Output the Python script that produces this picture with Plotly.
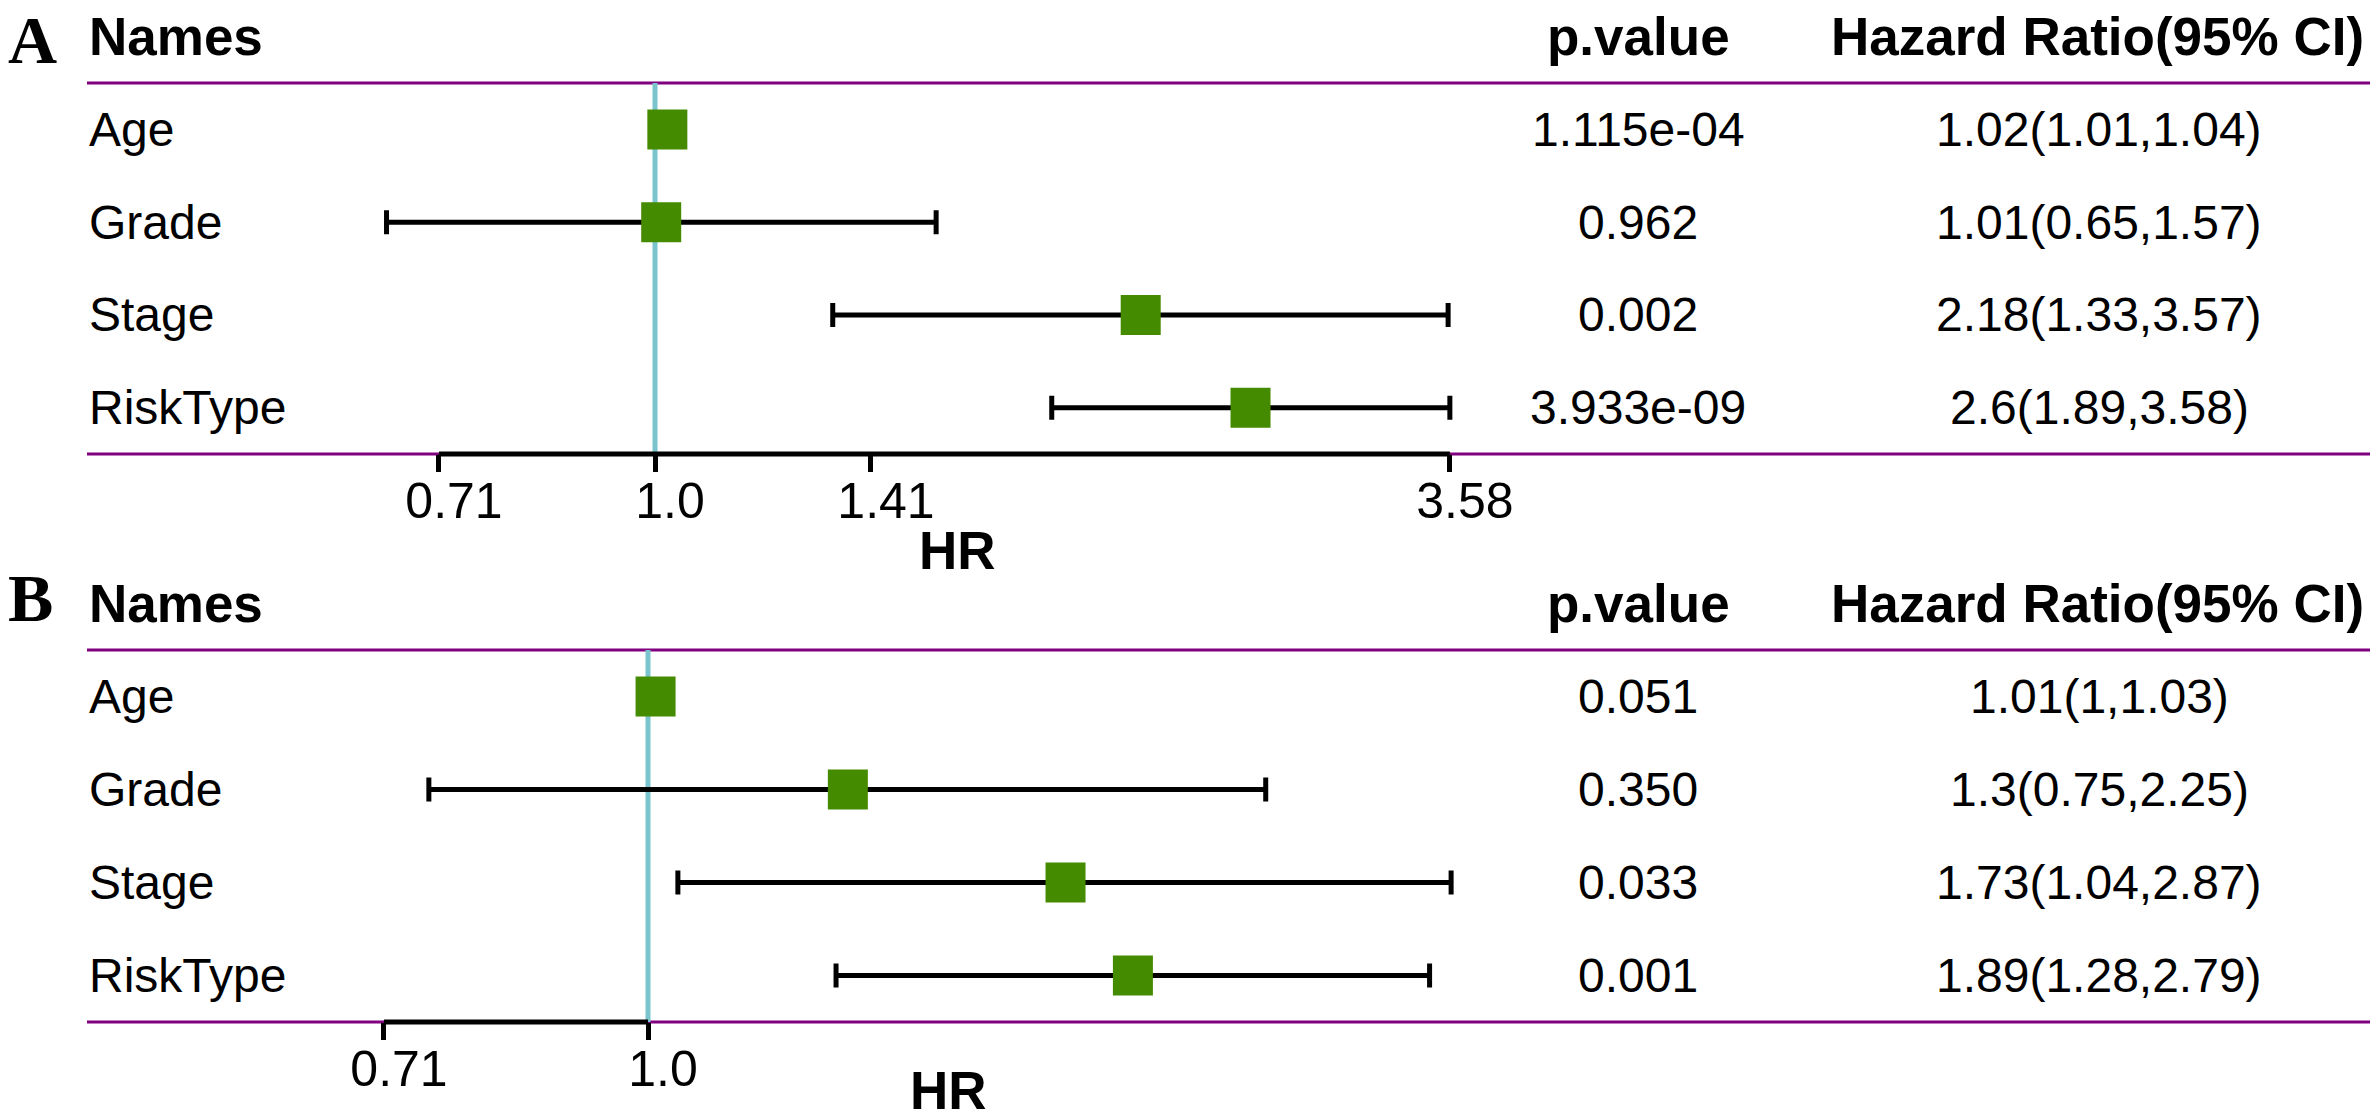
import math
import plotly.graph_objects as go

# ---- data ----
names = ["Age", "Grade", "Stage", "RiskType"]

a_hr = [1.02, 1.01, 2.18, 2.6]
a_lo = [1.01, 0.65, 1.33, 1.89]
a_hi = [1.04, 1.57, 3.57, 3.58]
a_p = ["1.115e-04", "0.962", "0.002", "3.933e-09"]
a_ticks = [0.7071, 1.0, 1.4142, 3.58]
a_ticktext = ["0.71", "1.0", "1.41", "3.58"]

b_hr = [1.01, 1.3, 1.73, 1.89]
b_lo = [1.0, 0.75, 1.04, 1.28]
b_hi = [1.03, 2.25, 2.87, 2.79]
b_p = ["0.051", "0.350", "0.033", "0.001"]
b_ticks = [0.7071, 1.0]
b_ticktext = ["0.71", "1.0"]

W, H = 2375, 1120
GREEN = "#458B00"
CYAN = "#7AC5CD"
PURPLE = "#800080"
SANS = "Liberation Sans, Arial, sans-serif"
SERIF = "Liberation Serif, Times New Roman, serif"

# panel geometry (pixels): where HR=1 sits, px per log2 unit, first row, row step
panels = [
    dict(tag="A", hr=a_hr, lo=a_lo, hi=a_hi, p=a_p, ticks=a_ticks, ticktext=a_ticktext,
         one=655, per=432, row0=129.4, step=92.75, top=0, bot=560,
         hr_x=957, hr_y=551, tag_y=None),
    dict(tag="B", hr=b_hr, lo=b_lo, hi=b_hi, p=b_p, ticks=b_ticks, ticktext=b_ticktext,
         one=648, per=528, row0=696.5, step=93.0, top=560, bot=1120,
         hr_x=948, hr_y=1090, tag_y=598),
]

fig = go.Figure()
layout = dict(width=W, height=H, margin=dict(l=0, r=0, t=0, b=0),
              paper_bgcolor="white", plot_bgcolor="white", showlegend=False)
annotations, shapes = [], []

for k, pn in enumerate(panels):
    sfx = "" if k == 0 else str(k + 1)
    xa, ya = "x" + sfx, "y" + sfx
    rows = list(range(len(names)))

    # reference line at HR = 1
    fig.add_trace(go.Scatter(x=[1, 1], y=[-0.5, len(names) - 0.5], mode="lines",
                             line=dict(color=CYAN, width=5), xaxis=xa, yaxis=ya,
                             hoverinfo="skip"))
    # axis segment between the outer ticks
    fig.add_trace(go.Scatter(x=[pn["ticks"][0], pn["ticks"][-1]],
                             y=[len(names) - 0.5] * 2, mode="lines",
                             line=dict(color="black", width=5), xaxis=xa, yaxis=ya,
                             hoverinfo="skip"))
    # confidence intervals
    fig.add_trace(go.Scatter(
        x=pn["hr"], y=rows, mode="markers", marker=dict(size=1, opacity=0),
        error_x=dict(type="data", symmetric=False,
                     array=[h - m for h, m in zip(pn["hi"], pn["hr"])],
                     arrayminus=[m - l for m, l in zip(pn["hr"], pn["lo"])],
                     color="black", thickness=5, width=12),
        xaxis=xa, yaxis=ya))
    # point estimates
    fig.add_trace(go.Scatter(x=pn["hr"], y=rows, mode="markers",
                             marker=dict(symbol="square", size=40, color=GREEN,
                                         line=dict(width=0)),
                             xaxis=xa, yaxis=ya))

    l2 = math.log10(2)
    xr = [l2 * (0 - pn["one"]) / pn["per"], l2 * (W - pn["one"]) / pn["per"]]
    yr = [(pn["bot"] - pn["row0"]) / pn["step"], (pn["top"] - pn["row0"]) / pn["step"]]
    axis_px = pn["row0"] + (len(names) - 0.5) * pn["step"]

    layout["xaxis" + sfx] = dict(
        type="log", range=xr, domain=[0, 1], anchor="free",
        position=1 - axis_px / H, showgrid=False, zeroline=False, showline=False,
        tickmode="array", tickvals=pn["ticks"], ticktext=pn["ticktext"],
        ticks="outside", ticklen=17, tickwidth=5, tickcolor="black",
        tickfont=dict(family=SANS, size=50, color="black"),
        ticklabelshift=15, ticklabelstandoff=-14, fixedrange=True)
    layout["yaxis" + sfx] = dict(
        range=yr, domain=[1 - pn["bot"] / H, 1 - pn["top"] / H], anchor=xa,
        visible=False, fixedrange=True)

    # table rules
    for yv in (-0.5, len(names) - 0.5):
        shapes.append(dict(type="line", xref="paper", yref=ya, x0=87 / W, x1=2370 / W,
                           y0=yv, y1=yv, line=dict(color=PURPLE, width=3), layer="below"))

    # panel letter
    if pn["tag_y"] is None:
        tag_pos = dict(y=1, yanchor="top")
    else:
        tag_pos = dict(y=1 - pn["tag_y"] / H, yanchor="middle")
    annotations.append(dict(text="<b>%s</b>" % pn["tag"], xref="paper", yref="paper",
                            x=6 / W, xanchor="left", showarrow=False,
                            font=dict(family=SERIF, size=68, color="black"), **tag_pos))
    # headers
    hdrs = [("<b>Names</b>", 87, "left"), ("<b>p.value</b>", 1638, "center"),
            ("<b>Hazard Ratio(95% CI)</b>", 2097, "center")]
    for txt, px, anc in hdrs:
        annotations.append(dict(text=txt, xref="paper", yref=ya, x=px / W, y=-1,
                                xanchor=anc, yanchor="middle", showarrow=False,
                                font=dict(family=SANS, size=53, color="black")))
    # table body
    for i, nm in enumerate(names):
        ci = "%g(%g,%g)" % (pn["hr"][i], pn["lo"][i], pn["hi"][i])
        for txt, px, anc in [(nm, 87, "left"), (pn["p"][i], 1638, "center"),
                             (ci, 2099, "center")]:
            annotations.append(dict(text=txt, xref="paper", yref=ya, x=px / W, y=i,
                                    xanchor=anc, yanchor="middle", showarrow=False,
                                    font=dict(family=SANS, size=48, color="black")))
    # axis title
    annotations.append(dict(text="<b>HR</b>", xref="paper", yref="paper",
                            x=pn["hr_x"] / W, y=1 - pn["hr_y"] / H,
                            xanchor="center", yanchor="middle", showarrow=False,
                            font=dict(family=SANS, size=53, color="black")))

layout["annotations"] = annotations
layout["shapes"] = shapes
fig.update_layout(**layout)
# the page body has a default 8px margin; drop it so the figure fills the window
fig.write_html("out.html", config={"displayModeBar": False},
               post_script="document.body.style.margin='0px';")
